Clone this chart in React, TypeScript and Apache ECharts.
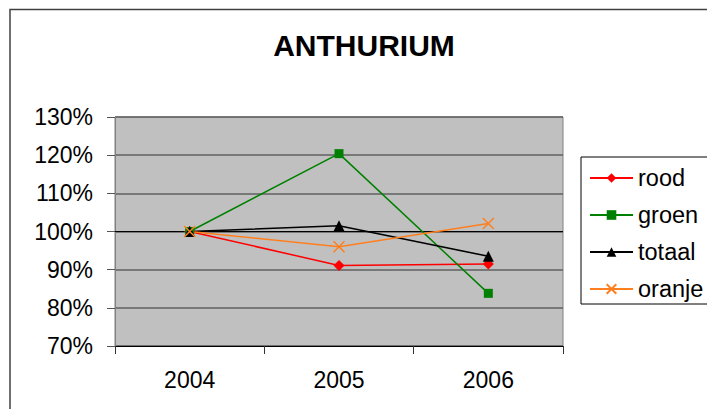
import React, { useEffect, useRef } from "react";
import * as echarts from "echarts";

const categories = ["2004", "2005", "2006"];
const seriesNames = ["rood", "groen", "totaal", "oranje"];
const rood = [100, 91.1, 91.5];
const groen = [100, 120.4, 83.8];
const totaal = [100, 101.5, 93.5];
const oranje = [100, 96.0, 102.1];
const yTicks = [70, 80, 90, 100, 110, 120, 130];

const FONT = "'Liberation Sans', Arial, sans-serif";
const ORANGE = "#FF7F1F";

export default function App() {
  const ref = useRef<HTMLDivElement>(null);
  useEffect(() => {
    if (!ref.current) return;
    const chart = echarts.init(ref.current, undefined, { renderer: "svg" });
    const xPath = "path://M0,0L10,10M10,0L0,10";
    const mk = (name: string, data: number[], color: string, symbol: string, size: number, extra: any = {}) => ({
      name,
      type: "line",
      data,
      symbol,
      symbolSize: size,
      lineStyle: { color, width: 1.5 },
      itemStyle: { color, borderColor: color, borderWidth: 0 },
      ...extra,
    });
    chart.setOption({
      animation: false,
      backgroundColor: "#fff",
      textStyle: { fontFamily: FONT },
      graphic: [
        {
          type: "rect",
          shape: { x: 10, y: 9.5, width: 800, height: 500 },
          style: { fill: "none", stroke: "#404040", lineWidth: 1.5 },
          silent: true,
          z: -10,
        },
        {
          type: "text",
          x: 364,
          y: 45,
          scaleX: 1,
          style: {
            text: "ANTHURIUM",
            font: `bold 30px ${FONT}`,
            fill: "#000",
            textAlign: "center",
            textVerticalAlign: "middle",
          },
        },
      ],
      grid: {
        left: 115,
        right: 144,
        top: 117,
        bottom: 63,
        show: true,
        backgroundColor: "#C0C0C0",
        borderColor: "#808080",
        borderWidth: 1,
      },
      legend: {
        data: seriesNames,
        orient: "vertical",
        left: 581,
        top: 157,
        padding: [9, 20, 3, 8],
        itemWidth: 43,
        itemHeight: 12,
        itemGap: 13,
        backgroundColor: "#fff",
        borderColor: "#000",
        borderWidth: 1,
        borderRadius: 0,
        textStyle: { fontSize: 23.5, color: "#000", fontFamily: FONT, lineHeight: 24 },
      },
      xAxis: {
        type: "category",
        data: categories,
        boundaryGap: true,
        axisLine: { show: true, lineStyle: { color: "#000", width: 1 } },
        axisTick: { show: true, length: 8, lineStyle: { color: "#333" } },
        axisLabel: { fontSize: 23, color: "#000", margin: 22, fontFamily: FONT },
        splitLine: { show: false },
      },
      yAxis: {
        type: "value",
        min: yTicks[0],
        max: yTicks[yTicks.length - 1],
        interval: 10,
        axisLine: { show: true, lineStyle: { color: "#808080", width: 1 } },
        axisTick: { show: true, length: 8, lineStyle: { color: "#555" } },
        axisLabel: {
          fontSize: 23,
          color: "#000",
          margin: 22,
          fontFamily: FONT,
          formatter: (v: number) => `${v}%`,
        },
        splitLine: { show: true, lineStyle: { color: "#606060", width: 1.5 } },
      },
      series: [
        mk("rood", rood, "#FF0000", "diamond", 11, {
          markLine: {
            silent: true,
            symbol: "none",
            label: { show: false },
            lineStyle: { color: "#000", width: 1, type: "solid" },
            data: [{ yAxis: 100 }],
            z: 1,
          },
        }),
        mk("groen", groen, "#008000", "rect", 9),
        mk("totaal", totaal, "#000000", "triangle", 11),
        {
          ...mk("oranje", oranje, ORANGE, xPath, 11),
          itemStyle: { color: ORANGE, borderColor: ORANGE, borderWidth: 1.5 },
        },
      ],
    });
    return () => chart.dispose();
  }, []);
  return (
    <div
      ref={ref}
      style={{ position: "fixed", left: 0, top: 0, width: 707, height: 409 }}
    />
  );
}
